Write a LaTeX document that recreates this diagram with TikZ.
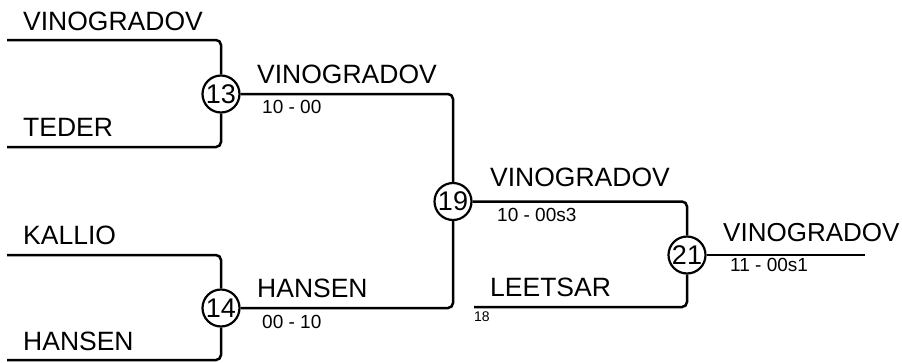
\documentclass[tikz,border=0pt]{standalone}
\usepackage{fontspec}
\setmainfont{Liberation Sans}
\begin{document}
\begin{tikzpicture}[x=1pt,y=-1pt,
  conn/.style={line width=2.5pt, rounded corners=5pt},
  match/.style={circle, draw, line width=2.2pt, minimum size=37pt, inner sep=0pt, font=\fontsize{27}{30}\selectfont},
  pname/.style={anchor=base west, inner sep=0pt, font=\fontsize{26.5}{30}\selectfont},
  pscore/.style={anchor=base west, inner sep=0pt, font=\fontsize{19}{22}\selectfont},
  pseed/.style={anchor=base west, inner sep=0pt, font=\fontsize{14}{16}\selectfont}]
\useasboundingbox (0,0) rectangle (902,362);
% matches
\node[match] (m13) at (221,94) {13};
\node[match] (m14) at (221,308) {14};
\node[match] (m19) at (453,201.5) {19};
\node[match] (m21) at (687,255) {21};
% free ends
\coordinate (a1) at (7,40);
\coordinate (a2) at (7,147);
\coordinate (b1) at (7,255);
\coordinate (b2) at (7,360);
\coordinate (c2) at (474,307);
\coordinate (fin) at (865,255);
% connectors
\draw[conn] (a1) -| (m13);
\draw[conn] (a2) -| (m13);
\draw[conn] (b1) -| (m14);
\draw[conn] (b2) -| (m14);
\draw[conn] (m13) -| (m19);
\draw[conn] (m14) -| (m19);
\draw[conn] (m19) -| (m21);
\draw[conn] (c2) -| (m21);
\draw[conn] (m21) -- (fin);
% names
\node[pname] (n1) at (23,30) {VINOGRADOV};
\node[pname] (n2) at (23,136.5) {TEDER};
\node[pname] (n3) at (23,244) {KALLIO};
\node[pname] (n4) at (23,350) {HANSEN};
\node[pname] (w13) at (257,83) {VINOGRADOV};
\node[pscore] (s13) at (262,113) {10 - 00};
\node[pname] (w14) at (257,297) {HANSEN};
\node[pscore] (s14) at (262,328) {00 - 10};
\node[pname] (w19) at (490,186.5) {VINOGRADOV};
\node[pscore] (s19) at (497,221.5) {10 - 00s3};
\node[pname] (l18) at (490,296.5) {LEETSAR};
\node[pseed] (seed) at (474,321.5) {18};
\node[pname, font=\fontsize{26}{30}\selectfont] (w21) at (723,241.5) {VINOGRADOV};
\node[pscore] (s21) at (730,271.5) {11 - 00s1};
\end{tikzpicture}
\end{document}
